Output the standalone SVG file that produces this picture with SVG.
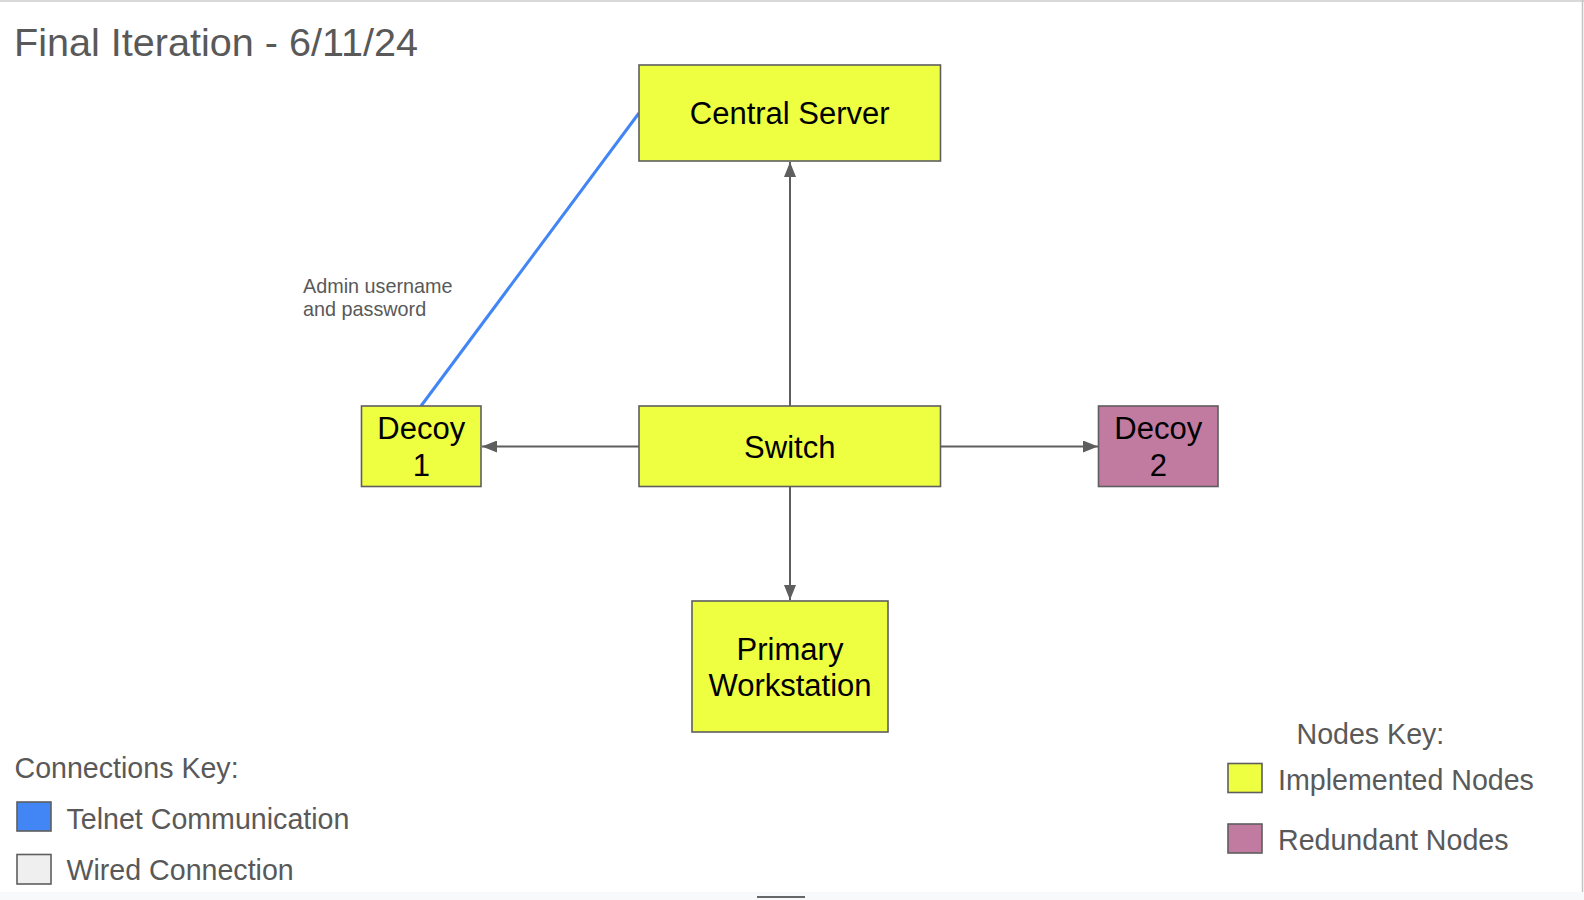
<svg xmlns="http://www.w3.org/2000/svg" width="1584" height="900" viewBox="0 0 1584 900">
  <style>
    .node { stroke: #5e5e5e; stroke-width: 1.6; }
    .impl { fill: #eeff41; }
    .red { fill: #c27ba0; }
    .ntext { font-family: "Liberation Sans", Arial, sans-serif; font-size: 31px; fill: #000; text-anchor: middle; }
    .gtext { font-family: "Liberation Sans", Arial, sans-serif; fill: #595959; }
    .conn { stroke: #5e5e5e; stroke-width: 2; fill: none; }
    .key { stroke: #5e5e5e; stroke-width: 1.6; }
  </style>
  <defs>
    <marker id="arr" markerWidth="16" markerHeight="12" refX="15" refY="6" orient="auto" markerUnits="userSpaceOnUse">
      <path d="M0,0 L15,6 L0,12 z" fill="#5e5e5e"/>
    </marker>
  </defs>
  <rect x="0" y="0" width="1584" height="900" fill="#ffffff"/>
  <rect x="0" y="892" width="1584" height="8" fill="#f8f9fa"/>
  <line x1="0" y1="1" x2="1584" y2="1" stroke="#cccccc" stroke-width="1.5"/>
  <line x1="1582.5" y1="0" x2="1582.5" y2="892" stroke="#c4c4c4" stroke-width="1.5"/>
  <rect x="757" y="896" width="48" height="2" fill="#666666"/>

  <text id="title" class="gtext" x="14" y="55.5" font-size="39.6">Final Iteration - 6/11/24</text>

  <g id="connectors">
    <line class="conn" x1="790" y1="406" x2="790" y2="162" marker-end="url(#arr)"/>
    <line class="conn" x1="639" y1="446.5" x2="482" y2="446.5" marker-end="url(#arr)"/>
    <line class="conn" x1="940.5" y1="446.5" x2="1098" y2="446.5" marker-end="url(#arr)"/>
    <line class="conn" x1="790" y1="486.5" x2="790" y2="600" marker-end="url(#arr)"/>
    <line x1="421" y1="406" x2="639" y2="113" stroke="#4285f4" stroke-width="3"/>
    <text class="gtext" font-size="19.8" x="303" y="293">Admin username</text>
    <text class="gtext" font-size="19.8" x="303" y="316">and password</text>
  </g>

  <g id="central-server">
    <rect class="node impl" x="639" y="65" width="301.5" height="96"/>
    <text class="ntext" x="789.75" y="124">Central Server</text>
  </g>
  <g id="switch">
    <rect class="node impl" x="639" y="406" width="301.5" height="80.5"/>
    <text class="ntext" x="789.75" y="458">Switch</text>
  </g>
  <g id="decoy-1">
    <rect class="node impl" x="361.5" y="406" width="119.5" height="80.5"/>
    <text class="ntext" x="421.25" y="438.5">Decoy</text>
    <text class="ntext" x="421.25" y="475.5">1</text>
  </g>
  <g id="decoy-2">
    <rect class="node red" x="1098.5" y="406" width="119.5" height="80.5"/>
    <text class="ntext" x="1158.25" y="438.5">Decoy</text>
    <text class="ntext" x="1158.25" y="475.5">2</text>
  </g>
  <g id="primary-workstation">
    <rect class="node impl" x="692" y="601" width="196" height="131"/>
    <text class="ntext" x="790" y="660">Primary</text>
    <text class="ntext" x="790" y="695.5">Workstation</text>
  </g>

  <g id="connections-key">
    <text class="gtext" font-size="28.6" x="14.5" y="778">Connections Key:</text>
    <rect class="key" x="17" y="802" width="34" height="29" fill="#4285f4"/>
    <text class="gtext" font-size="28.6" x="66.5" y="829">Telnet Communication</text>
    <rect class="key" x="17" y="854.5" width="34" height="29.5" fill="#efefef"/>
    <text class="gtext" font-size="28.6" x="66.5" y="880">Wired Connection</text>
  </g>

  <g id="nodes-key">
    <text class="gtext" font-size="28.6" x="1296.5" y="744">Nodes Key:</text>
    <rect class="key" x="1228" y="763.5" width="34" height="29" fill="#eeff41"/>
    <text class="gtext" font-size="28.6" x="1278" y="790">Implemented Nodes</text>
    <rect class="key" x="1228" y="824" width="34" height="29" fill="#c27ba0"/>
    <text class="gtext" font-size="28.6" x="1278" y="849.5">Redundant Nodes</text>
  </g>
</svg>
